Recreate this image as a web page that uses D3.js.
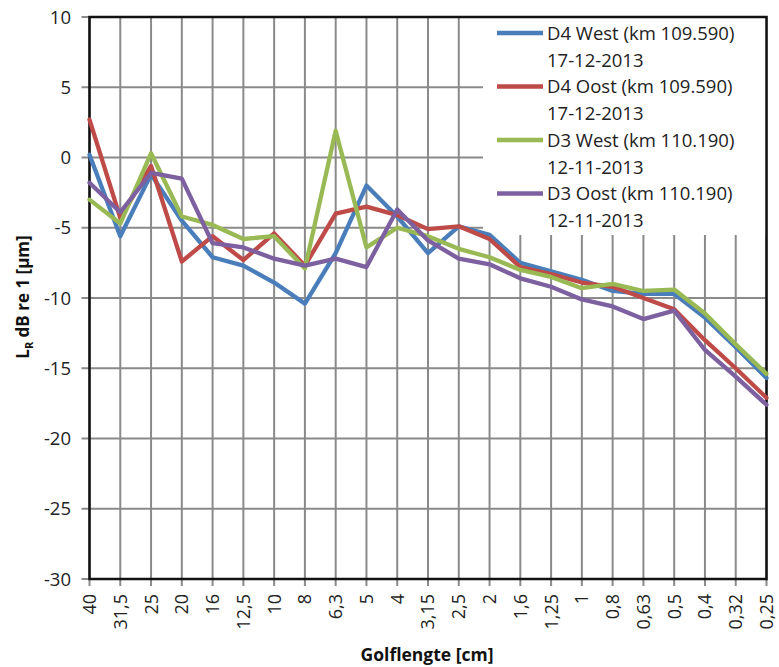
<!DOCTYPE html>
<html>
<head>
<meta charset="utf-8">
<script src="https://cdn.jsdelivr.net/npm/d3@7"></script>
<style>
  html, body { margin: 0; padding: 0; background: #fff; }
  svg { display: block; }
</style>
</head>
<body>
<svg id="chart" width="779" height="667"></svg>
<script>
const categories = ["40","31,5","25","20","16","12,5","10","8","6,3","5","4","3,15","2,5","2","1,6","1,25","1","0,8","0,63","0,5","0,4","0,32","0,25"];
const yTicks = [10, 5, 0, -5, -10, -15, -20, -25, -30];

const seriesNames = ["D4 West (km 109.590)", "D4 Oost (km 109.590)", "D3 West (km 110.190)", "D3 Oost (km 110.190)"];
const seriesDates = ["17-12-2013", "17-12-2013", "12-11-2013", "12-11-2013"];
const seriesColors = ["#4A7EBB", "#BE4B48", "#98B954", "#7D60A0"];

const d4West = [0.2, -5.6, -1.2, -4.5, -7.1, -7.7, -8.9, -10.4, -6.8, -2.0, -4.2, -6.8, -4.9, -5.5, -7.5, -8.1, -8.7, -9.5, -9.7, -9.7, -11.4, -13.5, -15.7];
const d4Oost = [2.7, -4.3, -0.6, -7.4, -5.6, -7.3, -5.4, -7.7, -4.0, -3.5, -4.1, -5.1, -4.9, -5.8, -7.8, -8.3, -8.9, -9.2, -10.0, -10.8, -13.0, -15.0, -17.1];
const d3West = [-3.0, -4.7, 0.3, -4.2, -4.8, -5.8, -5.6, -7.9, 1.9, -6.4, -5.0, -5.6, -6.5, -7.1, -8.0, -8.5, -9.3, -9.0, -9.5, -9.4, -11.1, -13.3, -15.4];
const d3Oost = [-1.8, -3.9, -1.1, -1.5, -6.1, -6.4, -7.2, -7.7, -7.2, -7.8, -3.7, -5.9, -7.2, -7.6, -8.6, -9.2, -10.1, -10.6, -11.5, -10.9, -13.7, -15.6, -17.6];
const seriesValues = [d4West, d4Oost, d3West, d3Oost];

const svg = d3.select("#chart");
const pLeft = 89.5, pRight = 766.5, pTop = 17, pBottom = 579;

const x = d3.scalePoint().domain(categories).range([pLeft, pRight]);
const y = d3.scaleLinear().domain([-30, 10]).range([pBottom, pTop]);

const font = "'Open Sans', 'Liberation Sans', sans-serif";

// gridlines
const grid = svg.append("g");
grid.selectAll("line.v").data(categories).enter().append("line")
  .attr("x1", d => x(d)).attr("x2", d => x(d))
  .attr("y1", pTop).attr("y2", pBottom + 7)
  .attr("stroke", "#8a8a8a").attr("stroke-width", 2);
grid.selectAll("line.h").data(yTicks).enter().append("line")
  .attr("x1", pLeft - 8).attr("x2", pRight)
  .attr("y1", d => y(d)).attr("y2", d => y(d))
  .attr("stroke", "#8a8a8a").attr("stroke-width", 2);

// legend background (covers gridlines)
svg.append("rect")
  .attr("x", 483).attr("y", pTop).attr("width", pRight - 483).attr("height", 218)
  .attr("fill", "#fff");

// plot border
svg.append("rect")
  .attr("x", pLeft).attr("y", pTop).attr("width", pRight - pLeft).attr("height", pBottom - pTop)
  .attr("fill", "none").attr("stroke", "#111").attr("stroke-width", 2.5);

// series lines
const line = d3.line().x((d, i) => x(categories[i])).y(d => y(d));
seriesValues.forEach((vals, k) => {
  svg.append("path")
    .attr("d", line(vals))
    .attr("fill", "none")
    .attr("stroke", seriesColors[k])
    .attr("stroke-width", 4.3)
    .attr("stroke-linejoin", "round")
    .attr("stroke-linecap", "round");
});

// y tick labels
svg.append("g").selectAll("text").data(yTicks).enter().append("text")
  .attr("x", 71).attr("y", d => y(d))
  .attr("dy", "0.36em")
  .attr("text-anchor", "end")
  .attr("font-family", font).attr("font-size", 18.5)
  .attr("fill", "#222")
  .text(d => d);

// x tick labels
svg.append("g").selectAll("text").data(categories).enter().append("text")
  .attr("transform", d => `translate(${x(d)},${pBottom + 15}) rotate(-90)`)
  .attr("dy", "0.36em")
  .attr("text-anchor", "end")
  .attr("font-family", font).attr("font-size", 18)
  .attr("fill", "#222")
  .text(d => d);

// axis titles
svg.append("text")
  .attr("x", 427).attr("y", 661)
  .attr("text-anchor", "middle")
  .attr("font-family", font).attr("font-size", 17.5).attr("font-weight", "bold")
  .attr("fill", "#111")
  .text("Golflengte [cm]");

const yt = svg.append("text")
  .attr("transform", "translate(29,297) rotate(-90)")
  .attr("text-anchor", "middle")
  .attr("font-family", font).attr("font-size", 17).attr("font-weight", "bold")
  .attr("fill", "#111");
yt.append("tspan").text("L");
yt.append("tspan").attr("font-size", 11).attr("dy", 4).text("R");
yt.append("tspan").attr("dy", -4).text(" dB re 1 [µm]");

// legend
const legend = svg.append("g");
seriesNames.forEach((name, k) => {
  const cy = 33 + k * 53.5;
  legend.append("line")
    .attr("x1", 497).attr("x2", 543).attr("y1", cy).attr("y2", cy)
    .attr("stroke", seriesColors[k]).attr("stroke-width", 4.3);
  legend.append("text")
    .attr("x", 547).attr("y", cy).attr("dy", "0.36em")
    .attr("font-family", font).attr("font-size", 18.5)
    .attr("fill", "#222")
    .text(name);
  legend.append("text")
    .attr("x", 547).attr("y", cy + 27).attr("dy", "0.36em")
    .attr("font-family", font).attr("font-size", 18.5)
    .attr("fill", "#222")
    .text(seriesDates[k]);
});
</script>
</body>
</html>
